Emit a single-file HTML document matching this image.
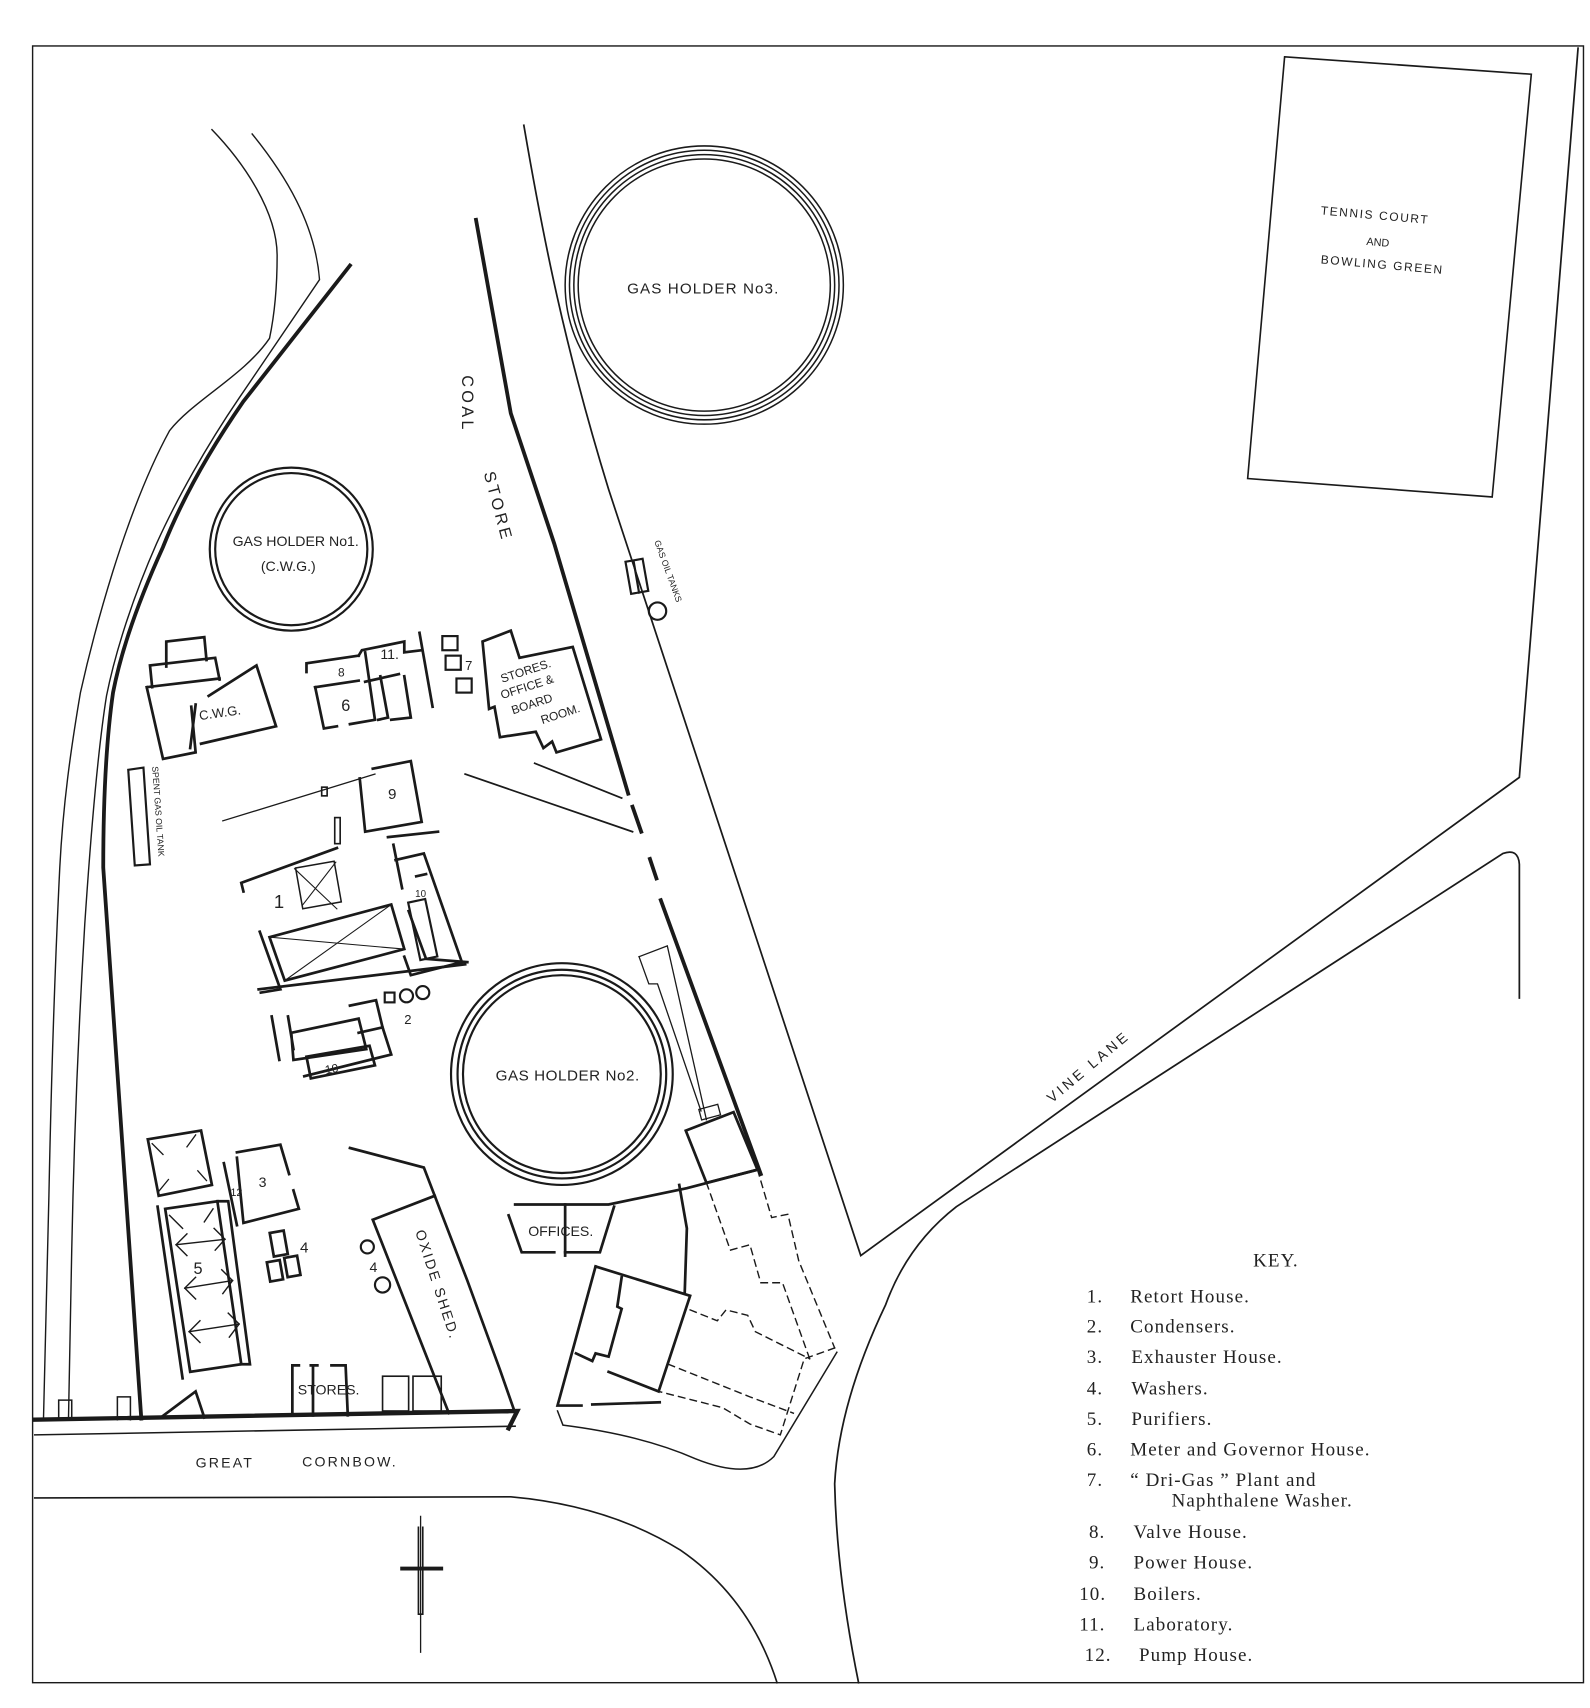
<!DOCTYPE html>
<html><head><meta charset="utf-8"><style>
html,body{margin:0;padding:0;background:#fff;}
svg{display:block;}
text{font-family:"Liberation Sans",sans-serif;fill:#222;}
.k{font-family:"Liberation Serif",serif;font-size:17.5px;fill:#222;letter-spacing:1px;}
</style></head><body>
<svg width="1590" height="1708" viewBox="0 0 1463 1571" xmlns="http://www.w3.org/2000/svg" fill="none" stroke="#1a1a1a" stroke-linecap="square">
<rect x="30" y="42" width="1427" height="1506" stroke-width="1.3"/>
<polygon points="1182,52 1409,68 1373,457 1148,440" stroke-width="1.5"/>
<path d="M482,115 C500,220 520,320 560,450 L792,1155 L1398,715 L1452,44" stroke-width="1.6"/>
<path d="M1398,918 L1398,795 Q1397,780 1383,785 L880,1110 Q835,1145 815,1200 Q772,1290 768,1365 Q770,1450 790,1548" stroke-width="1.6"/>
<path d="M32,1320 L474,1312" stroke-width="1.4"/>
<path d="M32,1378 L470,1377 Q560,1385 626,1426 Q690,1470 715,1548" stroke-width="1.5"/>
<path d="M513,1298 L518,1311 Q590,1320 640,1342 Q690,1362 712,1340 L770,1244" stroke-width="1.4"/>
<path d="M32,1306 L476,1298 L468,1314" stroke-width="4"/>
<path d="M54,1306 L54,1288 L66,1288 L66,1306" stroke-width="1.4"/>
<path d="M108,1306 L108,1285 L120,1285 L120,1306" stroke-width="1.4"/>
<!-- river -->
<path d="M195,119 C225,150 255,195 255,235 C255,270 252,292 248,311 C225,345 178,368 156,396 C132,440 115,490 104,525 C90,570 80,610 74,637 C65,690 58,740 55,798 C50,900 47,1000 45,1100 C43,1200 41,1260 40,1306" stroke-width="1.3"/>
<path d="M232,123 C262,160 290,205 294,257 L220,366 C190,410 162,460 144,500 C122,550 106,600 98,640 C90,690 84,760 78,850 C72,950 68,1050 66,1150 C65,1220 64,1270 63,1306" stroke-width="1.3"/>
<path d="M322,244 L224,369 Q175,440 150,503 Q115,580 104,637 Q95,700 95,798 L130,1305" stroke-width="3.5"/>
<path d="M438,202 L470,380 L510,500 L578,730" stroke-width="3.5"/>
<path d="M582,742 L590,765 M598,790 L604,808 M608,828 L700,1080" stroke-width="3.5"/>
<g stroke-width="1.4"><circle cx="648" cy="262" r="128"/><circle cx="648" cy="262" r="124"/><circle cx="648" cy="262" r="120"/><circle cx="648" cy="262" r="116"/></g>
<text x="577" y="270" font-size="14" stroke="none" letter-spacing="1">GAS HOLDER No3.</text>
<g stroke-width="2"><circle cx="268" cy="505" r="75"/><circle cx="268" cy="505" r="70"/></g>
<text x="214" y="502" font-size="13" stroke="none">GAS HOLDER No1.</text>
<text x="240" y="525" font-size="13" stroke="none">(C.W.G.)</text>
<g stroke-width="2"><circle cx="517" cy="988" r="102"/><circle cx="517" cy="988" r="96"/><circle cx="517" cy="988" r="91"/></g>
<text x="456" y="994" font-size="14" stroke="none" letter-spacing="0.5">GAS HOLDER No2.</text>
<text font-size="15" stroke="none" transform="translate(425,345) rotate(90)" letter-spacing="3">COAL</text>
<text font-size="15" stroke="none" transform="translate(445,435) rotate(75)" letter-spacing="3">STORE</text>
<text font-size="11" stroke="none" transform="translate(1215,197) rotate(5)" letter-spacing="1.5">TENNIS COURT</text>
<text font-size="10" stroke="none" transform="translate(1257,225) rotate(5)">AND</text>
<text font-size="11" stroke="none" transform="translate(1215,242) rotate(5)" letter-spacing="1.5">BOWLING GREEN</text>
<text font-size="13" stroke="none" transform="translate(968,1015) rotate(-40)" letter-spacing="3">VINE LANE</text>
<text x="180" y="1350" font-size="13" stroke="none" letter-spacing="2">GREAT</text>
<text x="278" y="1349" font-size="13" stroke="none" letter-spacing="2">CORNBOW.</text>
<g stroke-width="2"><rect x="578" y="515" width="16" height="30" transform="rotate(-10 586 530)"/><line x1="583" y1="516" x2="588" y2="545"/><circle cx="605" cy="562" r="8"/></g>
<text font-size="8" stroke="none" transform="translate(602,498) rotate(70)">GAS OIL TANKS</text>
<polygon points="118,708 132,706 138,795 124,796" stroke-width="2"/>
<text font-size="8" stroke="none" transform="translate(140,705) rotate(86)">SPENT GAS OIL TANK</text>
<g stroke-width="2.5">
<path d="M153,613 L153,590 L188,586 L190,607"/>
<path d="M140,632 L138,612 L198,605 L202,625"/>
<path d="M175,688 L180,648 M192,640 L236,612 L254,668 L185,684"/>
<path d="M135,632 L202,624 M135,632 L150,698 L180,692 L176,650"/>
</g>
<text x="183" y="660" font-size="12" stroke="none" transform="rotate(-8 200 655)">C.W.G.</text>
<g stroke-width="2.5">
<path d="M282,618 L282,610 L330,603"/><path d="M290,632 L330,626"/>
<path d="M330,603 L333,598 L372,590 L372,600 L388,598"/>
<path d="M336,627 L367,620"/>
<path d="M290,632 L298,670 L310,668 M322,666 L345,662 L336,600"/>
<path d="M350,622 L357,660 L348,662 M360,662 L378,660 L372,622"/>
<path d="M386,582 L398,650"/>
</g>
<text x="311" y="622" font-size="11" stroke="none">8</text>
<text x="350" y="606" font-size="13" stroke="none">11.</text>
<text x="314" y="654" font-size="15" stroke="none">6</text>
<g stroke-width="2"><rect x="407" y="585" width="14" height="13"/><rect x="410" y="603" width="14" height="13"/><rect x="420" y="624" width="14" height="13"/></g>
<text x="428" y="616" font-size="12" stroke="none">7</text>
<path d="M444,590 L470,580 L478,605 L527,595 L553,680 L512,692 L508,682 L500,688 L493,673 L460,678 L455,650 L450,652 Z" stroke-width="2.5"/>
<text font-size="11" stroke="none" transform="translate(462,628) rotate(-18)">STORES.</text>
<text font-size="11" stroke="none" transform="translate(462,643) rotate(-18)">OFFICE &amp;</text>
<text font-size="11" stroke="none" transform="translate(472,657) rotate(-18)">BOARD</text>
<text font-size="11" stroke="none" transform="translate(499,666) rotate(-18)">ROOM.</text>
<path d="M492,702 L572,734 M428,712 L582,765" stroke-width="1.6"/>
<g stroke-width="2.5"><path d="M331,716 L336,765 L388,756 L378,700 L343,707"/><path d="M357,770 L403,765"/></g>
<text x="357" y="735" font-size="14" stroke="none">9</text>
<path d="M205,755 L345,712" stroke-width="1.2"/>
<rect x="296" y="724" width="5" height="8" stroke-width="1.5"/>
<rect x="308" y="752" width="5" height="24" stroke-width="1.5"/>
<g stroke-width="2.5">
<path d="M224,820 L222,812 L310,780"/>
<path d="M362,777 L370,817 M364,791 L390,785 L425,885 L378,897 L372,880"/>
<path d="M383,806 L392,804"/>
<path d="M239,857 L258,910 L240,913"/>
<path d="M248,862 L360,832 L372,873 L262,902 Z"/>
<path d="M376,838 L392,882 L430,885"/>
</g>
<rect x="381" y="828" width="16" height="54" transform="rotate(-12 389 855)" stroke-width="2"/>
<text x="382" y="825" font-size="9" stroke="none">10</text>
<path d="M248,862 L372,873 M262,902 L360,832" stroke-width="1"/>
<rect x="275" y="795" width="36" height="38" transform="rotate(-10 293 814)" stroke-width="1.4"/>
<path d="M271,799 L310,836 M309,793 L278,833" stroke-width="1"/>
<text x="252" y="835" font-size="17" stroke="none">1</text>
<g stroke-width="2.5">
<path d="M238,910 L428,887"/>
<path d="M250,935 L257,975"/>
<path d="M265,935 L270,965 M268,950 L330,937 L337,965 L270,975 Z"/>
<path d="M322,925 L346,920 L352,945 L330,950"/>
<path d="M280,990 L360,970 L352,945"/>
<path d="M282,972 L340,962 L345,980 L286,992 Z"/>
</g>
<rect x="354" y="913" width="9" height="9" stroke-width="2"/>
<circle cx="374" cy="916" r="6" stroke-width="2"/><circle cx="389" cy="913" r="6" stroke-width="2"/>
<text x="372" y="942" font-size="12" stroke="none">2</text>
<text x="299" y="987" font-size="11" stroke="none" transform="rotate(-10 305 983)">10</text>
<g stroke-width="2">
<path d="M588,880 L614,870 L650,1030" stroke-width="1.2"/>
<path d="M588,880 L597,905 L605,905 L645,1022" stroke-width="1.2"/>
<rect x="644" y="1018" width="18" height="10" transform="rotate(-15 653 1023)" stroke-width="1.2"/>
<path d="M631,1040 L675,1023 L697,1076 L650,1088 Z" stroke-width="2.5"/>
</g>
<g stroke-width="2.5">
<path d="M474,1108 L560,1108 L632,1093 L697,1076"/>
<path d="M468,1118 L480,1152 L510,1152 M520,1152 L552,1152 L565,1110"/>
<path d="M520,1108 L520,1155"/>
<path d="M625,1090 L632,1130 L630,1190"/>
</g>
<text x="486" y="1137" font-size="13" stroke="none">OFFICES.</text>
<g stroke-width="2.5">
<path d="M548,1165 L635,1192 L606,1280 L560,1262"/>
<path d="M548,1165 L513,1293 L535,1293 M545,1292 L607,1290"/>
<path d="M572,1175 L568,1202 L572,1204 L560,1248 L548,1245 L545,1252 L530,1245"/>
</g>
<g stroke-width="1.3" stroke-dasharray="6,5">
<path d="M650,1088 L672,1150 L690,1145 L700,1180 L720,1180 L745,1250"/>
<path d="M697,1076 L710,1120 L725,1117 L735,1160 L768,1240"/>
<path d="M635,1205 L660,1215 L668,1205 L688,1210 L695,1225 L745,1250"/>
<path d="M768,1240 L740,1250 L718,1320 L690,1310 L665,1295 L606,1280"/>
<path d="M615,1255 L690,1285 L730,1300"/>
</g>
<g stroke-width="2.5">
<path d="M136,1048 L185,1040 L195,1090 L146,1100 Z"/>
<path d="M206,1070 L218,1127 M218,1060 L258,1053 L266,1080 M270,1095 L275,1112 L224,1125 L218,1065"/>
</g>
<path d="M140,1052 L150,1062 M180,1044 L172,1055 M146,1096 L155,1085 M190,1086 L182,1077" stroke-width="1.2"/>
<text x="212" y="1100" font-size="10" stroke="none">12</text>
<text x="238" y="1092" font-size="13" stroke="none">3</text>
<g stroke-width="2.5">
<path d="M145,1110 L168,1268"/>
<path d="M152,1112 L200,1105 L222,1255 L175,1262 Z"/>
<path d="M200,1105 L210,1105 L230,1255 L222,1255"/>
</g>
<g stroke-width="1.3">
<path d="M162,1145 L207,1140 M170,1185 L214,1178 M174,1225 L220,1218"/>
<path d="M156,1118 L168,1130 M196,1112 L188,1124 M162,1145 L172,1135 M162,1145 L172,1155 M207,1140 L197,1130 M207,1140 L198,1150"/>
<path d="M170,1185 L180,1175 M170,1185 L180,1195 M214,1178 L204,1168 M214,1178 L205,1190"/>
<path d="M174,1225 L184,1215 M174,1225 L184,1235 M220,1218 L210,1208 M220,1218 L211,1230"/>
</g>
<text x="178" y="1172" font-size="15" stroke="none">5</text>
<path d="M148,1304 L180,1280 L188,1304" stroke-width="2.5"/>
<g stroke-width="2.5">
<rect x="250" y="1133" width="13" height="22" transform="rotate(-10 256 1144)"/>
<rect x="247" y="1160" width="12" height="18" transform="rotate(-10 253 1169)"/>
<rect x="263" y="1156" width="12" height="18" transform="rotate(-10 269 1165)"/>
</g>
<text x="276" y="1152" font-size="14" stroke="none">4</text>
<circle cx="338" cy="1147" r="6" stroke-width="2"/><circle cx="352" cy="1182" r="7" stroke-width="2"/>
<text x="340" y="1170" font-size="13" stroke="none">4</text>
<g stroke-width="2.5">
<path d="M322,1056 L390,1074 L400,1100 L430,1178 L460,1260 L474,1300"/>
<path d="M343,1122 L400,1100 M343,1122 L413,1300"/>
</g>
<text font-size="13" stroke="none" transform="translate(382,1133) rotate(72)" letter-spacing="2">OXIDE  SHED.</text>
<g stroke-width="2.5"><path d="M269,1302 L269,1256 L275,1256 M288,1256 L288,1302 M286,1256 L292,1256 M305,1256 L318,1256 L320,1302"/></g>
<text x="274" y="1283" font-size="13" stroke="none">STORES.</text>
<g stroke-width="1.5"><rect x="352" y="1266" width="24" height="32"/><rect x="380" y="1266" width="26" height="32"/></g>
<path d="M387,1395 L387,1520" stroke-width="1.2"/>
<path d="M385,1405 L385,1485 L389,1485 L389,1405" stroke-width="1.5"/>
<path d="M370,1443 L406,1443" stroke-width="3.5"/>
<g stroke="none">
<text x="1153" y="1165" class="k">KEY.</text>
<text x="1000" y="1198" class="k">1.</text><text x="1040" y="1198" class="k">Retort House.</text>
<text x="1000" y="1226" class="k">2.</text><text x="1040" y="1226" class="k">Condensers.</text>
<text x="1000" y="1254" class="k">3.</text><text x="1041" y="1254" class="k">Exhauster House.</text>
<text x="1000" y="1283" class="k">4.</text><text x="1041" y="1283" class="k">Washers.</text>
<text x="1000" y="1311" class="k">5.</text><text x="1041" y="1311" class="k">Purifiers.</text>
<text x="1000" y="1339" class="k">6.</text><text x="1040" y="1339" class="k">Meter and Governor House.</text>
<text x="1000" y="1367" class="k">7.</text><text x="1040" y="1367" class="k">“ Dri-Gas ” Plant and</text>
<text x="1078" y="1386" class="k">Naphthalene Washer.</text>
<text x="1002" y="1415" class="k">8.</text><text x="1043" y="1415" class="k">Valve House.</text>
<text x="1002" y="1443" class="k">9.</text><text x="1043" y="1443" class="k">Power House.</text>
<text x="993" y="1472" class="k">10.</text><text x="1043" y="1472" class="k">Boilers.</text>
<text x="993" y="1500" class="k">11.</text><text x="1043" y="1500" class="k">Laboratory.</text>
<text x="998" y="1528" class="k">12.</text><text x="1048" y="1528" class="k">Pump House.</text>
</g>
</svg>
</body></html>
